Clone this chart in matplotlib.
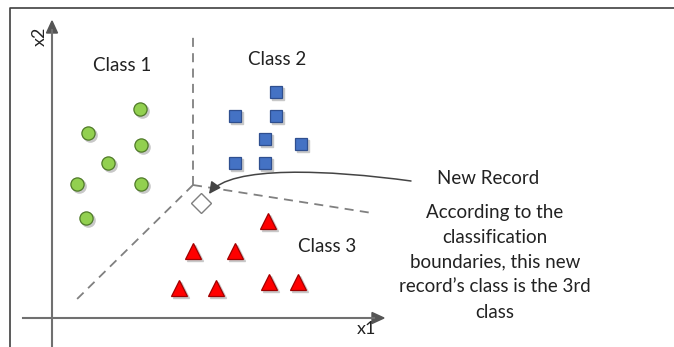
import numpy as np
import matplotlib
matplotlib.use('Agg')
import matplotlib.pyplot as plt
from matplotlib.path import Path
from matplotlib.patches import FancyArrowPatch

plt.rcParams['font.family'] = ['Lato', 'DejaVu Sans']

# positions in picture units (x to the right, y downward)
class1_x = [140, 88, 141, 108, 77, 141, 86]
class1_y = [109, 133, 145, 163, 184, 184, 218]
class2_x = [276, 235, 276, 265, 301, 235, 265]
class2_y = [92, 116, 116, 139, 144, 163, 163]
class3_x = [268, 193, 235, 179, 216, 269, 298]
class3_y = [221, 251, 251, 288, 288, 282, 282]
new_x, new_y = 201, 203

# decision boundaries meeting in one corner
corner = (193, 185)
bound_ends = [(193, 35), (372, 213), (73, 303)]

labels = ['Class 1', 'Class 2', 'Class 3']
label_pos = [(122, 65), (277, 59), (327, 246)]
note = ["According to the", "classification", "boundaries, this new",
        "record\u2019s class is the 3rd", "class"]

fig = plt.figure(figsize=(6.74, 3.47), dpi=100)
ax = fig.add_axes([0, 0, 1, 1])
ax.set_xlim(0, 674)
ax.set_ylim(347, 0)
ax.axis('off')

# frame of the picture
ax.plot([10, 10, 674], [347, 8, 8], color='#404040', lw=1.2)

# axes with arrows
ax.plot([52, 52], [347, 30], color='#707070', lw=1.5)
ax.plot([23, 374], [318, 318], color='#707070', lw=1.5)
ax.fill([46.5, 57.5, 52], [33, 33, 21], color='#555555')
ax.fill([372, 372, 384], [312.5, 323.5, 318], color='#555555')
ax.text(40, 36, 'x2', rotation=90, fontsize=13, ha='center', va='center', color='#222222')
ax.text(366, 329, 'x1', fontsize=13, ha='center', va='center', color='#222222')

for ex, ey in bound_ends:
    ax.plot([corner[0], ex], [corner[1], ey], color='#808080', lw=1.3,
            linestyle=(0, (5, 3.5)))

shadow = dict(color='#c8c8c8', linestyle='none', zorder=2)
ax.plot(np.array(class1_x) + 1.5, np.array(class1_y) + 1.5, 'o', ms=9.5, **shadow)
ax.plot(np.array(class2_x) + 1.5, np.array(class2_y) + 1.5, 's', ms=8.8, **shadow)
ax.plot(np.array(class3_x) + 1.5, np.array(class3_y) + 1.5, '^', ms=11.5, **shadow)

ax.plot(class1_x, class1_y, 'o', ms=9.5, mfc='#92d050', mec='#4f7a28', mew=0.9, zorder=3)
ax.plot(class2_x, class2_y, 's', ms=8.8, mfc='#4472c4', mec='#2f4f8f', mew=0.9, zorder=3)
ax.plot(class3_x, class3_y, '^', ms=11.5, mfc='#ff0000', mec='#a00000', mew=0.9, zorder=3)
ax.plot(new_x, new_y, 'D', ms=10.5, mfc='white', mec='#7f7f7f', mew=1.0, zorder=3)

for t, (tx, ty) in zip(labels, label_pos):
    ax.text(tx, ty, t, fontsize=13.5, ha='center', va='center', color='#222222')

# curved pointer to the new record
verts = [(411, 181), (330, 170), (230, 165), (209, 194)]
arrow = FancyArrowPatch(path=Path(verts, [Path.MOVETO, Path.CURVE4, Path.CURVE4, Path.CURVE4]),
                        arrowstyle='-|>,head_length=7,head_width=3.5', color='#444444',
                        lw=1.1, zorder=4)
ax.add_patch(arrow)

ax.text(488, 178, 'New Record', fontsize=13.5, ha='center', va='center', color='#222222')
for i, line in enumerate(note):
    ax.text(495, 212 + i * 25, line, fontsize=13.5, ha='center', va='center', color='#222222')

fig.savefig('out.png', dpi=100)
